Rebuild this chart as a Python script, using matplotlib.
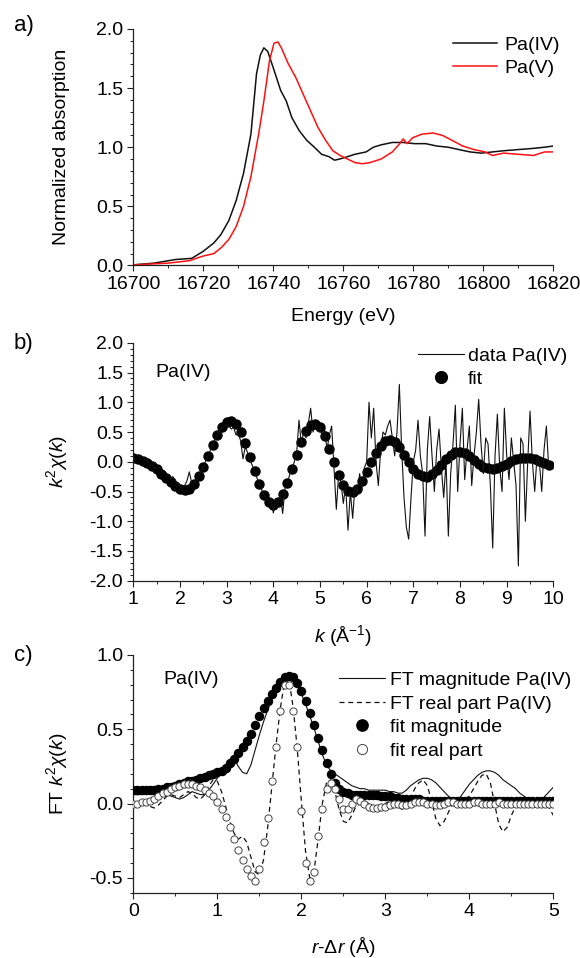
import numpy as np
import matplotlib
matplotlib.use('Agg')
import matplotlib.pyplot as plt
from matplotlib.ticker import MultipleLocator, FormatStrFormatter

plt.rcParams['font.family'] = ['Liberation Sans', 'DejaVu Sans']
plt.rcParams['mathtext.fontset'] = 'custom'
plt.rcParams['mathtext.rm'] = 'Liberation Sans'
plt.rcParams['mathtext.it'] = 'Liberation Sans:italic'
plt.rcParams['axes.unicode_minus'] = False
plt.rcParams['font.size'] = 14

# ---- a) XANES ----
pa4_e = [16700, 16706, 16712, 16716.7, 16720, 16723, 16725, 16727.3, 16729.4, 16731.5,
         16733.6, 16735.2, 16736.3, 16737.3, 16738.4, 16740, 16742.1, 16743.7, 16745.3, 16747.4,
         16749.5, 16751.7, 16753.8, 16755.9, 16757.5, 16759, 16761.2, 16763.3, 16766.5, 16768.6,
         16770.8, 16774, 16777.1, 16780.3, 16783.5, 16786.7, 16789.9, 16793, 16796.2, 16799.4,
         16802.6, 16805.8, 16810, 16814.3, 16817.5, 16820]
pa4_mu = [0.005, 0.02, 0.05, 0.06, 0.12, 0.19, 0.26, 0.38, 0.55, 0.78,
          1.11, 1.62, 1.78, 1.84, 1.81, 1.67, 1.48, 1.39, 1.25, 1.14,
          1.06, 1.00, 0.94, 0.92, 0.89, 0.90, 0.92, 0.94, 0.96, 1.00,
          1.02, 1.04, 1.04, 1.03, 1.03, 1.01, 1.00, 0.98, 0.96, 0.95,
          0.96, 0.97, 0.98, 0.99, 1.00, 1.01]
pa5_e = [16700, 16710, 16716, 16720, 16723, 16725.1, 16727.3, 16729.4, 16731.5, 16733.6,
         16735.8, 16737.3, 16738.9, 16740.2, 16741.3, 16742.3, 16744.2, 16746.4, 16748.5, 16750.6,
         16752.7, 16754.9, 16757, 16759.1, 16761.2, 16763.3, 16765.5, 16767.6, 16770.8, 16774,
         16776.1, 16777.1, 16778.2, 16779.8, 16782.4, 16785.6, 16788.3, 16790.9, 16794.1, 16797.3,
         16800.5, 16802.6, 16805.8, 16810, 16814.3, 16817.5, 16820]
pa5_mu = [0.005, 0.02, 0.04, 0.08, 0.10, 0.15, 0.22, 0.33, 0.50, 0.75,
          1.11, 1.39, 1.73, 1.88, 1.89, 1.84, 1.71, 1.59, 1.45, 1.31,
          1.17, 1.06, 0.97, 0.93, 0.90, 0.87, 0.86, 0.87, 0.90, 0.96,
          1.03, 1.07, 1.03, 1.08, 1.11, 1.12, 1.10, 1.06, 1.01, 0.98,
          0.96, 0.93, 0.95, 0.94, 0.93, 0.96, 0.96]

# ---- b) k-space, data on 0.05 grid from k=1.0, fit on 0.1 grid from k=1.0 ----
chi_data = [0.13, 0.12, 0.10, 0.08, 0.06, 0.03, 0.01, -0.03, -0.06, -0.10,
            -0.11, -0.08, -0.15, -0.20, -0.18, -0.24, -0.27, -0.25, -0.32, -0.38,
            -0.42, -0.43, -0.40, -0.32, -0.17, -0.35, -0.36, -0.30, -0.24, -0.16,
            -0.08, 0.01, 0.10, 0.19, 0.28, 0.37, 0.45, 0.52, 0.57, 0.61,
            0.62, 0.60, 0.55, 0.58, 0.45, 0.48, 0.35, 0.05, 0.25, 0.15,
            0.02, -0.06, -0.16, -0.27, -0.38, -0.47, -0.56, -0.62, -0.70, -0.62,
            -0.86, -0.62, -0.70, -0.55, -0.87, -0.45, -0.36, -0.22, -0.13, 0.00,
            0.15, 0.70, 0.30, 0.50, 0.40, 0.65, 0.90, 0.50, 0.62, 0.55,
            0.60, 0.40, 0.55, 0.20, 0.45, 0.60, -0.10, -0.80, -0.20, -0.35,
            -0.70, -0.40, -1.15, -0.50, -0.95, -0.40, -0.50, -0.20, -0.45, -0.10,
            0.00, 1.00, 0.40, 0.90, 0.00, -0.40, 0.20, 0.50, 0.45, 0.60,
            0.70, 0.40, 0.10, 0.50, 1.30, 0.20, -0.60, -1.10, -1.30, -0.60,
            0.00, 0.20, 0.70, 0.10, -0.20, -1.25, 0.20, 0.76, 0.10, -0.50,
            0.20, 0.55, -0.10, -0.60, 0.00, -1.25, -0.20, 0.30, 0.95, -0.50,
            0.30, 0.90, -0.30, 0.20, 0.60, -0.40, 0.10, 0.50, 1.05, 0.30,
            -0.20, 0.40, 0.30, -0.40, -1.45, 0.10, 0.80, -0.10, -0.50, 0.90,
            0.10, -0.30, 0.40, 0.00, -0.40, -1.75, 0.40, 0.30, -1.00, 0.00,
            0.85, 0.00, -0.50, 0.10, 0.00, -0.50, 0.20, 0.60, -0.10]
chi_fit = [0.07, 0.05, 0.02, -0.02, -0.07, -0.13, -0.20, -0.27, -0.34, -0.41,
           -0.46, -0.48, -0.45, -0.37, -0.24, -0.08, 0.10, 0.28, 0.45, 0.58,
           0.66, 0.68, 0.63, 0.50, 0.31, 0.08, -0.16, -0.38, -0.56, -0.68,
           -0.72, -0.68, -0.55, -0.36, -0.13, 0.11, 0.33, 0.51, 0.62, 0.64,
           0.58, 0.43, 0.22, -0.01, -0.22, -0.39, -0.49, -0.51, -0.45, -0.33,
           -0.17, 0.00, 0.15, 0.27, 0.35, 0.37, 0.33, 0.24, 0.12, -0.01,
           -0.12, -0.20, -0.24, -0.25, -0.21, -0.14, -0.05, 0.04, 0.11, 0.16,
           0.17, 0.14, 0.09, 0.03, -0.03, -0.08, -0.11, -0.12, -0.11, -0.07,
           -0.03, 0.01, 0.04, 0.06, 0.07, 0.06, 0.04, 0.01, -0.02, -0.05]
k_data = 1.0 + 0.05 * np.arange(len(chi_data))
k_fit = 1.0 + 0.1 * np.arange(len(chi_fit))

# ---- c) R-space, all on 0.05 grid from r=0 ----
ft_mag = [0.06, 0.06, 0.06, 0.07, 0.07, 0.07, 0.07, 0.07, 0.06, 0.05,
          0.04, 0.03, 0.04, 0.06, 0.08, 0.07, 0.06, 0.06, 0.09, 0.13,
          0.17, 0.21, 0.25, 0.28, 0.30, 0.25, 0.21, 0.20, 0.26, 0.36,
          0.46, 0.55, 0.63, 0.70, 0.77, 0.82, 0.85, 0.86, 0.84, 0.80,
          0.74, 0.67, 0.59, 0.51, 0.42, 0.33, 0.26, 0.22, 0.20, 0.18,
          0.16, 0.14, 0.12, 0.11, 0.10, 0.10, 0.09, 0.09, 0.09, 0.09,
          0.09, 0.08, 0.08, 0.07, 0.07, 0.09, 0.12, 0.14, 0.16, 0.17,
          0.17, 0.16, 0.14, 0.11, 0.08, 0.05, 0.03, 0.02, 0.05, 0.09,
          0.13, 0.16, 0.19, 0.21, 0.22, 0.22, 0.21, 0.19, 0.16, 0.14,
          0.12, 0.10, 0.07, 0.05, 0.03, 0.02, 0.02, 0.02, 0.05, 0.08,
          0.11]
ft_re = [-0.02, -0.02, -0.01, -0.01, -0.02, -0.03, -0.01, 0.02, 0.05, 0.06,
         0.05, 0.04, 0.06, 0.08, 0.07, 0.04, 0.03, 0.06, 0.12, 0.16,
         0.15, 0.08, -0.02, -0.12, -0.20, -0.24, -0.22, -0.26, -0.36, -0.46,
         -0.48, -0.38, -0.16, 0.12, 0.40, 0.64, 0.82, 0.84, 0.66, 0.38,
         0.02, -0.32, -0.50, -0.46, -0.24, 0.00, 0.14, 0.16, 0.08, -0.04,
         -0.12, -0.13, -0.08, -0.02, 0.00, 0.02, 0.00, -0.03, -0.05, -0.04,
         0.00, 0.02, 0.01, -0.02, -0.04, -0.02, 0.04, 0.10, 0.14, 0.16,
         0.12, 0.02, -0.10, -0.15, -0.12, -0.06, 0.00, 0.02, 0.02, 0.03,
         0.05, 0.10, 0.15, 0.19, 0.20, 0.14, 0.00, -0.14, -0.19, -0.16,
         -0.08, -0.02, 0.00, 0.01, 0.01, 0.00, 0.00, 0.01, 0.01, -0.03,
         -0.08]
fit_mag = [0.09, 0.09, 0.09, 0.09, 0.09, 0.09, 0.10, 0.10, 0.11, 0.11,
           0.12, 0.13, 0.14, 0.15, 0.15, 0.16, 0.17, 0.18, 0.19, 0.20,
           0.21, 0.22, 0.24, 0.27, 0.30, 0.34, 0.38, 0.42, 0.47, 0.53,
           0.59, 0.64, 0.69, 0.74, 0.78, 0.82, 0.85, 0.86, 0.85, 0.81,
           0.76, 0.69, 0.61, 0.53, 0.44, 0.36, 0.27, 0.20, 0.14, 0.10,
           0.08, 0.07, 0.06, 0.06, 0.06, 0.06, 0.06, 0.06, 0.06, 0.05,
           0.05, 0.05, 0.04, 0.04, 0.03, 0.03, 0.03, 0.03, 0.03, 0.02,
           0.02, 0.02, 0.02, 0.02, 0.02, 0.02, 0.02, 0.02, 0.02, 0.02,
           0.02, 0.02, 0.02, 0.02, 0.02, 0.02, 0.02, 0.02, 0.02, 0.02,
           0.02, 0.02, 0.02, 0.02, 0.02, 0.02, 0.02, 0.02, 0.02, 0.02,
           0.02]
fit_re = [0.00, 0.00, 0.01, 0.01, 0.02, 0.03, 0.05, 0.07, 0.08, 0.10,
          0.11, 0.12, 0.13, 0.13, 0.13, 0.12, 0.11, 0.09, 0.07, 0.05,
          0.01, -0.04, -0.09, -0.16, -0.24, -0.31, -0.38, -0.44, -0.49, -0.52,
          -0.44, -0.26, -0.10, 0.15, 0.38, 0.62, 0.80, 0.80, 0.62, 0.38,
          -0.05, -0.40, -0.52, -0.46, -0.22, -0.04, 0.10, 0.14, 0.10, 0.03,
          -0.04, -0.04, 0.00, 0.03, 0.02, 0.00, -0.02, -0.03, -0.03, -0.02,
          -0.02, -0.01, 0.00, 0.00, -0.01, -0.01, 0.00, 0.01, 0.01, 0.01,
          0.00, 0.00, -0.01, -0.01, 0.00, 0.01, 0.01, 0.00, 0.00, 0.00,
          0.00, 0.01, 0.01, 0.00, 0.00, 0.00, 0.00, 0.01, 0.00, 0.00,
          0.00, 0.00, 0.00, 0.00, 0.00, 0.00, 0.00, 0.00, 0.00, 0.00,
          0.00]
r = 0.05 * np.arange(len(ft_mag))


def style(ax):
    for s in ['top', 'right']:
        ax.spines[s].set_visible(False)
    for s in ['left', 'bottom']:
        ax.spines[s].set_linewidth(0.9)
        ax.spines[s].set_color('#222222')
    ax.tick_params(which='major', direction='out', length=4.3, width=0.8, color='#222222', labelsize=14, pad=3)
    ax.tick_params(which='minor', direction='out', length=2.2, width=0.7, color='#222222')
    ax.yaxis.set_major_formatter(FormatStrFormatter('%.1f'))


fig = plt.figure(figsize=(5.8, 9.58), dpi=100)
ax_a = fig.add_axes([0.2298, 0.7229, 0.7243, 0.2469])
ax_b = fig.add_axes([0.2298, 0.3938, 0.7243, 0.2484])
ax_c = fig.add_axes([0.2298, 0.0682, 0.7243, 0.2481])

# a)
ax_a.plot(pa4_e, pa4_mu, color='#111111', lw=1.1, label='Pa(IV)')
ax_a.plot(pa5_e, pa5_mu, color='#ff1010', lw=1.1, label='Pa(V)')
ax_a.set_xlim(16700, 16820)
ax_a.set_ylim(0, 2.0)
ax_a.xaxis.set_major_locator(MultipleLocator(20))
ax_a.xaxis.set_minor_locator(MultipleLocator(10))
ax_a.yaxis.set_major_locator(MultipleLocator(0.5))
ax_a.yaxis.set_minor_locator(MultipleLocator(0.1))
style(ax_a)
ax_a.set_xlabel('Energy (eV)', fontsize=14)
ax_a.set_ylabel('Normalized absorption', fontsize=14)
ax_a.legend(loc='upper left', bbox_to_anchor=(0.761, 0.97), frameon=False, borderpad=0,
            borderaxespad=0, handlelength=2.26, handletextpad=0.4, labelspacing=0.3, fontsize=14)

# b)
ax_b.plot(k_fit, chi_fit, 'o', color='black', ms=6.5, label='fit', zorder=2)
ax_b.plot(k_data, chi_data, color='#111111', lw=0.8, label='data Pa(IV)', zorder=3)
ax_b.set_xlim(1, 10)
ax_b.set_ylim(-2.0, 2.0)
ax_b.xaxis.set_major_locator(MultipleLocator(1))
ax_b.xaxis.set_minor_locator(MultipleLocator(0.5))
ax_b.yaxis.set_major_locator(MultipleLocator(0.5))
ax_b.yaxis.set_minor_locator(MultipleLocator(0.1))
style(ax_b)
ax_b.xaxis.set_major_formatter(FormatStrFormatter('%d'))
ax_b.set_xlabel(r'$k$ (Å$^{-1}$)', fontsize=14)
ax_b.set_ylabel(r'$k^2\chi(k)$', fontsize=14)
ax_b.text(0.052, 0.877, 'Pa(IV)', transform=ax_b.transAxes, fontsize=14, va='center')
hb, lb = ax_b.get_legend_handles_labels()
ax_b.legend([hb[1], hb[0]], [lb[1], lb[0]], loc='upper left', bbox_to_anchor=(0.678, 0.982),
            frameon=False, borderpad=0, borderaxespad=0, handlelength=2.37, handletextpad=0.2,
            labelspacing=0.3, fontsize=14, markerscale=1.3)

# c)
ax_c.plot(r, ft_mag, color='#111111', lw=0.8, label='FT magnitude Pa(IV)', zorder=2)
ax_c.plot(r, ft_re, color='#111111', lw=0.9, dashes=(4, 3), label='FT real part Pa(IV)', zorder=2)
ax_c.plot(r, fit_mag, 'o', color='black', ms=5.8, label='fit magnitude', zorder=3)
ax_c.plot(r, fit_re, 'o', mfc='white', mec='#444444', mew=0.7, ms=5.2, label='fit real part', zorder=4)
ax_c.set_xlim(0, 5)
ax_c.set_ylim(-0.6, 1.0)
ax_c.xaxis.set_major_locator(MultipleLocator(1))
ax_c.xaxis.set_minor_locator(MultipleLocator(0.5))
ax_c.yaxis.set_major_locator(MultipleLocator(0.5))
ax_c.yaxis.set_minor_locator(MultipleLocator(0.1))
style(ax_c)
ax_c.xaxis.set_major_formatter(FormatStrFormatter('%d'))
ax_c.set_xlabel(r'$r$-Δ$r$ (Å)', fontsize=14)
ax_c.set_ylabel(r'FT $k^2\chi(k)$', fontsize=14)
ax_c.text(0.071, 0.895, 'Pa(IV)', transform=ax_c.transAxes, fontsize=14, va='center')
ax_c.legend(loc='upper left', bbox_to_anchor=(0.489, 0.93), frameon=False, borderpad=0,
            borderaxespad=0, handlelength=2.38, handletextpad=0.27, labelspacing=0.3,
            fontsize=14, markerscale=1.4)

for ax in (ax_a, ax_b, ax_c):
    ax.yaxis.set_label_coords(-0.151, 0.5)
    ax.xaxis.set_label_coords(0.5, -0.18)

fig.text(0.041, 1 - 26 / 958, 'a)', fontsize=16, va='center', ha='center')
fig.text(0.041, 1 - 343 / 958, 'b)', fontsize=16, va='center', ha='center')
fig.text(0.041, 1 - 655 / 958, 'c)', fontsize=16, va='center', ha='center')

fig.savefig('out.png', dpi=100)
